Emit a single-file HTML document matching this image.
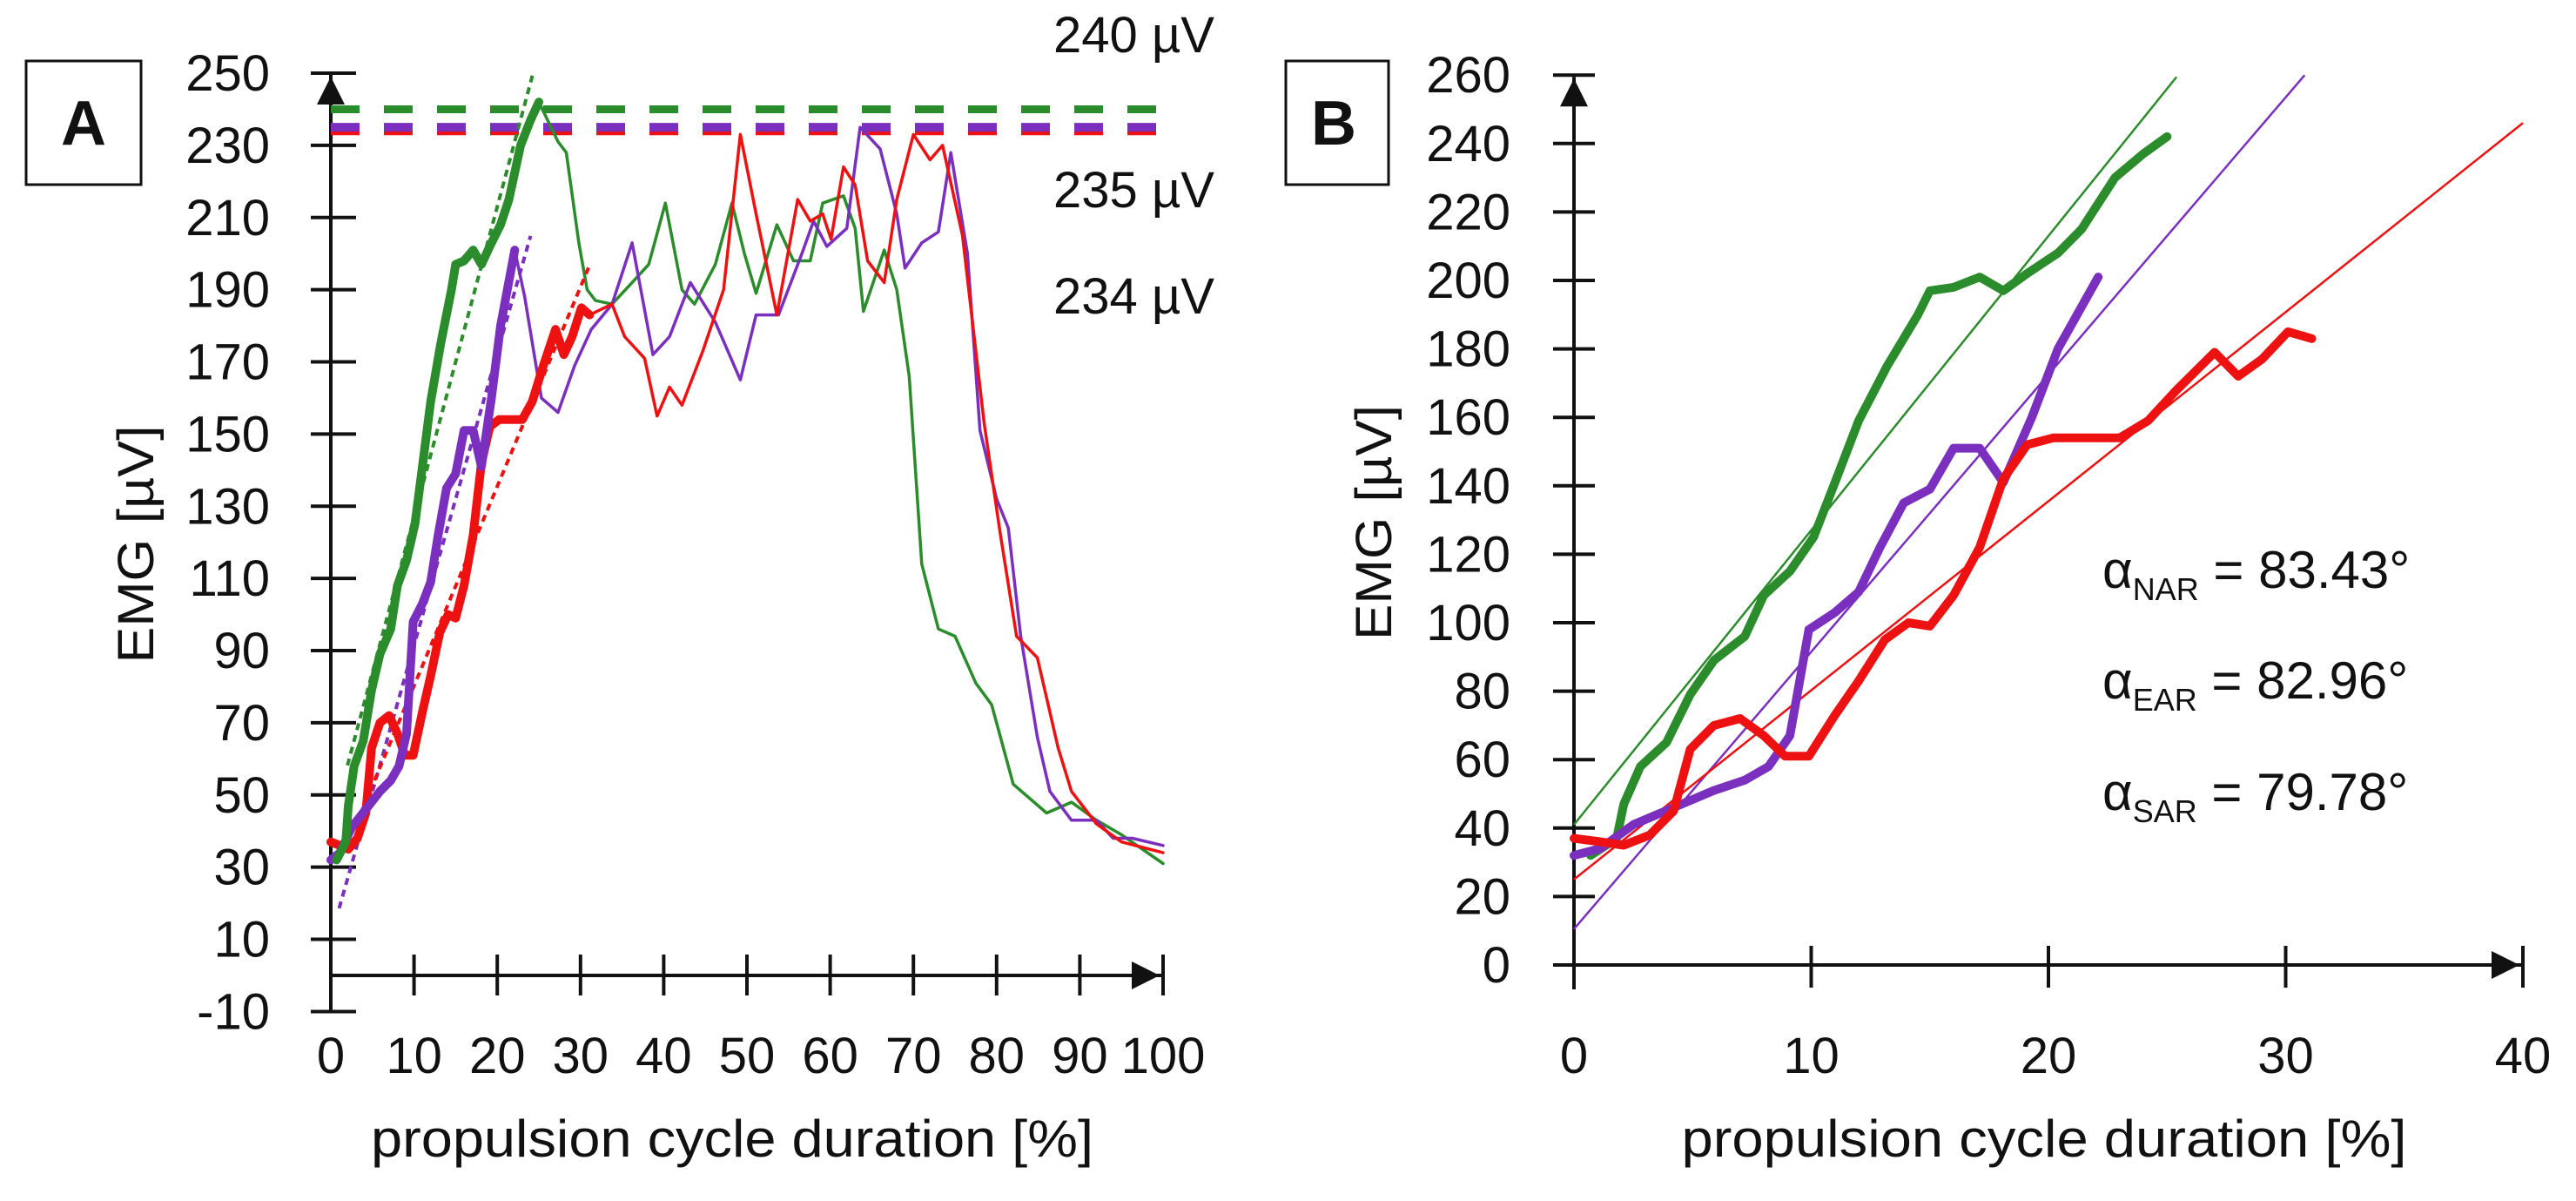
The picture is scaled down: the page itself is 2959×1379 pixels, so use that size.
<!DOCTYPE html>
<html><head><meta charset="utf-8"><style>
html,body{margin:0;padding:0;background:#fff;}
svg{display:block;font-family:"Liberation Sans",sans-serif;}
</style></head><body>
<svg id="chart" xmlns="http://www.w3.org/2000/svg" width="2959" height="1379" viewBox="0 0 2959 1379">
<rect width="2959" height="1379" fill="#fff"/>
<g id="panelA"></g>
<g id="panelB"></g>
</svg>
<script>
// ---- data (x = % of propulsion cycle, y = EMG µV) ----
const greenRiseX = [0.7,1.8,2.1,2.8,3.9,4.9,5.9,7.2,8,9.1,10.1,11,12,13.2,14.5,15,16,17.1,18.1,19.1,20.4,21.4,22.8,24,25];
const greenRiseY = [32,37,47,58,65,79,89,96,108,115,125,141,159,175,190,197,198,201,197,202,208,215,230,237,242];
const purpleRiseX = [0,1.1,2.5,4.2,5.9,7.2,8.2,9.1,9.9,11,12,12.9,13.9,15,16,17.1,18.1,19.3,20.4,22.1];
const purpleRiseY = [32,34,41,46,51,54,58,67,98,103,109,122,135,139,151,151,141,160,180,201];
const redRiseX = [0,1.1,2.1,3.2,4.2,4.9,5.9,7,8,8.9,9.9,11,12,13.1,14.1,15,16,17.1,18.1,19.1,20.2,21.4,23,24.2,25.4,27,28,29,30.1,31.1];
const redRiseY = [37,36,35,38,45,63,70,72,67,61,61,73,83,95,100,99,108,122,142,152,154,154,154,159,168,179,172,177,185,183];
const greenRestX = [25,27.3,28.3,29.8,30.8,31.8,33.8,36.2,38.2,40.2,42.2,43.7,46.2,48.2,49.7,51.1,53.6,55.6,57.6,59.1,61.6,63,64,66.5,68,69.5,71,73,75,77.5,79.4,82,86,89,92,95,100];
const greenRestY = [242,231,228,203,190,187,186,192,197,214,190,186,197,214,200,189,208,198,198,214,216,207,184,201,190,166,114,96,94,81,75,53,45,48,43,39,31];
const purpleRestX = [22.1,23.3,25.3,27.3,29.3,31.3,33.8,36.2,38.7,40.7,43.2,46.2,49.2,51.1,53.8,56.6,58,59.6,62,63.6,66,68,69,71,73,74.5,76.5,78,80,81.4,82.9,84.9,86.4,89,92,94,96.3,100];
const purpleRestY = [201,188,160,156,169,179,186,203,172,177,192,181,165,183,183,200,209,202,207,235,229,211,196,203,206,228,200,151,132,124,94,66,51,43,43,38,38,36];
const redRestX = [31.1,33.8,35.3,37.7,39.2,40.7,42.2,44.7,47.2,49.2,51.1,53.6,56.1,57.6,59.1,60.1,61.6,63,64.5,66.5,68,70,72,73.5,75.9,78.5,80.4,82.4,84.9,87.4,89,92,95,100];
const redRestY = [183,186,177,171,155,163,158,173,190,233,211,183,215,209,211,204,224,219,198,192,215,233,226,230,205,153,123,94,88,63,51,42,37,34];
// linear fits: intercept, slope
const fitIntercept = [41, 10.5, 25];
const fitSlope = [8.6, 8.1, 5.525];
const fitEndA = [24.3, 24, 31];
const fitStartA = [2, 1, 3];
const fitEndB = [25.4, 30.8, 40];
const peakValues = [240, 235, 234];
const peakLabels = ["240 µV", "235 µV", "234 µV"];
const ticksAy = [-10,10,30,50,70,90,110,130,150,170,190,210,230,250];
const ticksAx = [0,10,20,30,40,50,60,70,80,90,100];
const ticksBy = [0,20,40,60,80,100,120,140,160,180,200,220,240,260];
const ticksBx = [0,10,20,30,40];
const angleNames = ["NAR","EAR","SAR"];
const angleValues = ["83.43°","82.96°","79.78°"];

const COLORS = ["#2b8c2b","#7b2fbf","#ee1111"];
const NS = "http://www.w3.org/2000/svg";
function mk(tag, attrs, parent){const e=document.createElementNS(NS,tag);for(const k in attrs)e.setAttribute(k,attrs[k]);parent.appendChild(e);return e;}

// axis functions
const Ax = v => 380 + v*9.56;
const Ay = v => 1120 - v*4.144;
const Bx = v => 1808 + v*27.25;
const By = v => 1108 - v*3.93;

function poly(g, xs, ys, fx, fy, color, w, name, dash){
  const pts = xs.map((x,i)=>fx(x).toFixed(1)+","+fy(ys[i]).toFixed(1)).join(" ");
  const p = mk("polyline",{points:pts,fill:"none",stroke:color,"stroke-width":w,"stroke-linejoin":"round","stroke-linecap":"round"},g);
  if(dash) p.setAttribute("stroke-dasharray",dash);
  
  
  return p;
}
function txt(g, x, y, s, size, anchor, name, extra){
  const t = mk("text",{x:x,y:y,"font-size":size,"text-anchor":anchor||"start",fill:"#111"},g);
  if(extra) for(const k in extra) t.setAttribute(k,extra[k]);
  t.textContent = s;
  
  
  return t;
}

// ---------- Panel A ----------
const gA = document.getElementById("panelA");
let box = mk("rect",{x:30,y:70,width:132,height:142,fill:"#fff",stroke:"#111","stroke-width":3},gA);
 
txt(gA, 96, 166, "A", 72, "middle", "panel-a-label", {"font-weight":"bold"});

let l = mk("line",{x1:Ax(0),y1:Ay(-10),x2:Ax(0),y2:Ay(250)+2,stroke:"#111","stroke-width":4},gA);
 
l = mk("line",{x1:Ax(0),y1:Ay(0),x2:Ax(100),y2:Ay(0),stroke:"#111","stroke-width":4},gA);
 
let ar = mk("polygon",{points:`${Ax(0)},${Ay(250)+4} ${Ax(0)-16},${Ay(250)+36} ${Ax(0)+16},${Ay(250)+36}`,fill:"#111"},gA);
 
ar = mk("polygon",{points:`${Ax(100)-4},${Ay(0)} ${Ax(100)-36},${Ay(0)-16} ${Ax(100)-36},${Ay(0)+16}`,fill:"#111"},gA);
 
ticksAy.forEach(v=>{
  const t=mk("line",{x1:357,y1:Ay(v),x2:409,y2:Ay(v),stroke:"#111","stroke-width":4},gA);
   
  txt(gA, 310, Ay(v)+20, String(v), 58, "end", "a-y-tick-label");
});
ticksAx.forEach(v=>{
  const t=mk("line",{x1:Ax(v),y1:1096,x2:Ax(v),y2:1143,stroke:"#111","stroke-width":4},gA);
   
  txt(gA, Ax(v), 1232, String(v), 58, "middle", "a-x-tick-label");
});
txt(gA, 841, 1328, "propulsion cycle duration [%]", 60, "middle", "a-x-axis-title", {textLength:830,lengthAdjust:"spacingAndGlyphs"});
txt(gA, 0, 0, "EMG [µV]", 58, "middle", "a-y-axis-title", {transform:"translate(176,625) rotate(-90)",textLength:273,lengthAdjust:"spacingAndGlyphs"});

[2,1,0].forEach(i=>{
  const d=mk("line",{x1:Ax(0),y1:Ay(peakValues[i]),x2:Ax(100),y2:Ay(peakValues[i]),stroke:COLORS[i],"stroke-width":i===0?9:10,"stroke-dasharray":"33 28"},gA);
   
});
txt(gA, 1395, 60, peakLabels[0], 58, "end", "peak-label-green");
txt(gA, 1395, 238, peakLabels[1], 58, "end", "peak-label-purple");
txt(gA, 1395, 360, peakLabels[2], 58, "end", "peak-label-red");

const restX=[greenRestX,purpleRestX,redRestX], restY=[greenRestY,purpleRestY,redRestY];
const riseX=[greenRiseX,purpleRiseX,redRiseX], riseY=[greenRiseY,purpleRiseY,redRiseY];
const nm=["green","purple","red"];
[0,1,2].forEach(i=>poly(gA,restX[i],restY[i],Ax,Ay,COLORS[i],3.5,"a-"+nm[i]+"-thin"));
[0,1,2].forEach(i=>{
  const x0=fitStartA[i], x1=fitEndA[i];
  const d=mk("line",{x1:Ax(x0),y1:Ay(fitIntercept[i]+fitSlope[i]*x0),x2:Ax(x1),y2:Ay(fitIntercept[i]+fitSlope[i]*x1),stroke:COLORS[i],"stroke-width":4,"stroke-dasharray":"8 6"},gA);
   
});
[2,1,0].forEach(i=>poly(gA,riseX[i],riseY[i],Ax,Ay,COLORS[i],10,"a-"+nm[i]+"-thick"));

// ---------- Panel B ----------
const gB = document.getElementById("panelB");
box = mk("rect",{x:1477,y:70,width:118,height:142,fill:"#fff",stroke:"#111","stroke-width":3},gB);
 
txt(gB, 1532, 166, "B", 72, "middle", "panel-b-label", {"font-weight":"bold"});
l = mk("line",{x1:Bx(0),y1:1136,x2:Bx(0),y2:By(260)+2,stroke:"#111","stroke-width":4},gB);
 
l = mk("line",{x1:Bx(0),y1:By(0),x2:Bx(40),y2:By(0),stroke:"#111","stroke-width":4},gB);
 
ar = mk("polygon",{points:`${Bx(0)},${By(260)+4} ${Bx(0)-16},${By(260)+36} ${Bx(0)+16},${By(260)+36}`,fill:"#111"},gB);
 
ar = mk("polygon",{points:`${Bx(40)-4},${By(0)} ${Bx(40)-36},${By(0)-16} ${Bx(40)-36},${By(0)+16}`,fill:"#111"},gB);
 
ticksBy.forEach(v=>{
  const t=mk("line",{x1:Bx(0)-24,y1:By(v),x2:Bx(0)+24,y2:By(v),stroke:"#111","stroke-width":4},gB);
   
  txt(gB, 1735, By(v)+20, String(v), 58, "end", "b-y-tick-label");
});
ticksBx.forEach(v=>{
  const t=mk("line",{x1:Bx(v),y1:1086,x2:Bx(v),y2:1134,stroke:"#111","stroke-width":4},gB);
   
  txt(gB, Bx(v), 1232, String(v), 58, "middle", "b-x-tick-label");
});
txt(gB, 2348, 1328, "propulsion cycle duration [%]", 60, "middle", "b-x-axis-title", {textLength:833,lengthAdjust:"spacingAndGlyphs"});
txt(gB, 0, 0, "EMG [µV]", 58, "middle", "b-y-axis-title", {transform:"translate(1598,600) rotate(-90)",textLength:270,lengthAdjust:"spacingAndGlyphs"});
[0,1,2].forEach(i=>{
  const x1=fitEndB[i];
  const d=mk("line",{x1:Bx(0),y1:By(fitIntercept[i]),x2:Bx(x1),y2:By(fitIntercept[i]+fitSlope[i]*x1),stroke:COLORS[i],"stroke-width":2.5},gB);
   
});
[0,1,2].forEach(i=>poly(gB,riseX[i],riseY[i],Bx,By,COLORS[i],10,"b-"+nm[i]+"-thick"));
const angBase=[675,802,930];
angleNames.forEach((n,i)=>{
  const t=mk("text",{x:2415,y:angBase[i],"font-size":60,fill:"#111"},gB);
  
  
  const a=mk("tspan",{},t); a.textContent="α";
  const s=mk("tspan",{"font-size":36,dy:14},t); s.textContent=n;
  const r=mk("tspan",{dy:-14},t); r.textContent=" = "+angleValues[i];
});
</script>
</body></html>
